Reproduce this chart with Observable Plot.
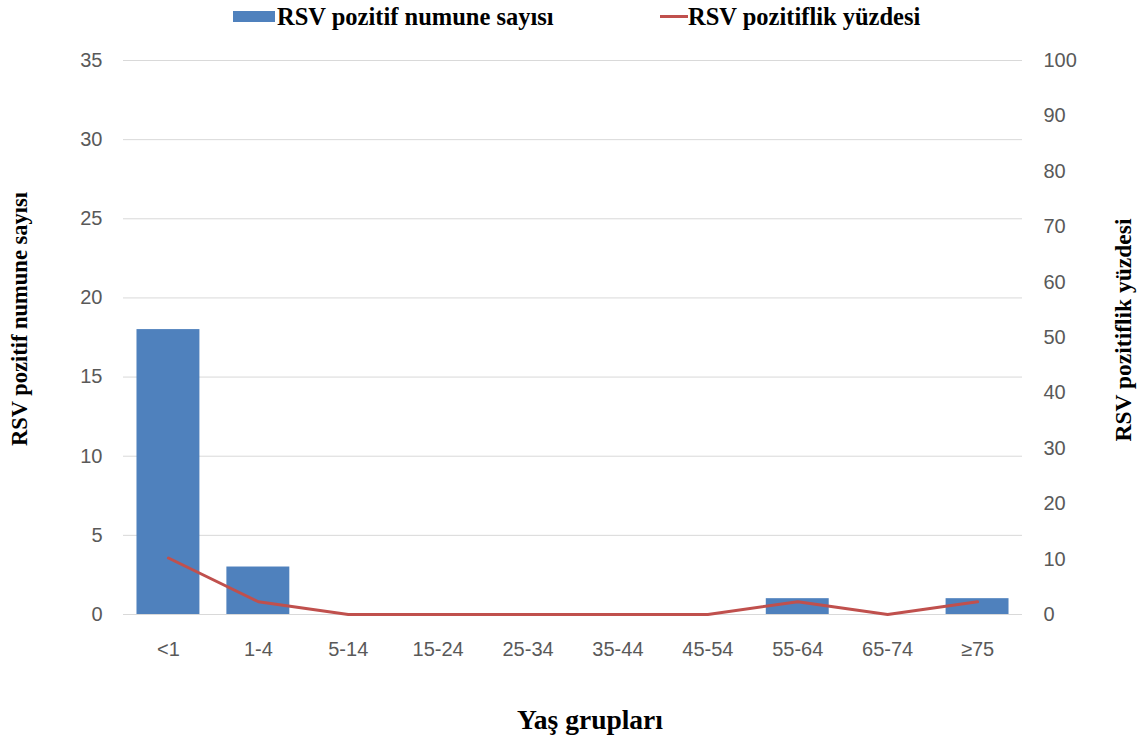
<!DOCTYPE html>
<html>
<head>
<meta charset="utf-8">
<script src="https://cdn.jsdelivr.net/npm/d3@7"></script>
<script src="https://cdn.jsdelivr.net/npm/@observablehq/plot@0.6"></script>
<style>
  body { margin: 0; background: #fff; }
  #wrap { position: relative; width: 1138px; height: 745px; font-family: "Liberation Serif", "Times New Roman", serif; overflow: hidden; }
  #chart { position: absolute; left: 0; top: 35px; }
  .leg { position: absolute; top: 0; height: 34px; line-height: 34px; font-weight: bold; font-size: 24.5px; color: #000; white-space: nowrap; }
  .ttl { position: absolute; font-weight: bold; color: #000; white-space: nowrap; line-height: 1; }
</style>
</head>
<body>
<div id="wrap">
  <div class="leg" style="left:233px;"><span style="display:inline-block;width:42px;height:11px;background:#4f81bd;vertical-align:3px;margin-right:2px;"></span>RSV pozitif numune sayısı</div>
  <div class="leg" style="left:660px;"><span style="display:inline-block;width:28px;height:3px;background:#c0504d;vertical-align:7px;margin-right:0px;"></span>RSV pozitiflik yüzdesi</div>
  <div class="ttl" style="font-size:22.5px;left:20px;top:319px;transform:translate(-50%,-50%) rotate(-90deg);">RSV pozitif numune sayısı</div>
  <div class="ttl" style="font-size:23.5px;left:1124px;top:330px;transform:translate(-50%,-50%) rotate(-90deg);">RSV pozitiflik yüzdesi</div>
  <div class="ttl" style="font-size:27.5px;left:590px;top:720px;transform:translate(-50%,-50%);">Yaş grupları</div>
  <div id="chart"></div>
</div>
<script>
const groups = ["<1", "1-4", "5-14", "15-24", "25-34", "35-44", "45-54", "55-64", "65-74", "≥75"];
const counts = [18, 3, 0, 0, 0, 0, 0, 1, 0, 1];
const percents = [10.2, 2.3, 0, 0, 0, 0, 0, 2.3, 0, 2.3];
const leftTicks = [0, 5, 10, 15, 20, 25, 30, 35];
const rightTicks = [0, 10, 20, 30, 40, 50, 60, 70, 80, 90, 100];

const ratio = 35 / 100;
const data = groups.map((g, i) => ({group: g, count: counts[i], pct: percents[i]}));

const chart = Plot.plot({
  width: 1138,
  height: 710,
  marginTop: 25,
  marginBottom: 131,
  marginLeft: 123,
  marginRight: 116,
  style: {fontFamily: "'Liberation Sans', Arial, sans-serif", fontSize: "20px", color: "#595959", background: "transparent"},
  x: {domain: groups, paddingInner: 0.3, paddingOuter: 0.15, round: false, label: null},
  y: {domain: [0, 35], label: null},
  marks: [
    Plot.gridY(leftTicks, {stroke: "#d9d9d9", strokeOpacity: 1, strokeWidth: 1}),
    Plot.barY(data, {x: "group", y: "count", fill: "#4f81bd"}),
    Plot.line(data, {x: "group", y: d => d.pct * ratio, stroke: "#c0504d", strokeWidth: 3}),
    Plot.axisY(leftTicks, {anchor: "left", tickSize: 0, tickPadding: 21, label: null, fill: "#595959"}),
    Plot.axisY(rightTicks.map(v => v * ratio), {anchor: "right", tickSize: 0, tickPadding: 21, label: null, tickFormat: v => String(Math.round(v / ratio)), fill: "#595959"}),
    Plot.axisX({tickSize: 0, tickPadding: 27, label: null, fill: "#595959"})
  ]
});
document.getElementById("chart").appendChild(chart);
</script>
</body>
</html>
